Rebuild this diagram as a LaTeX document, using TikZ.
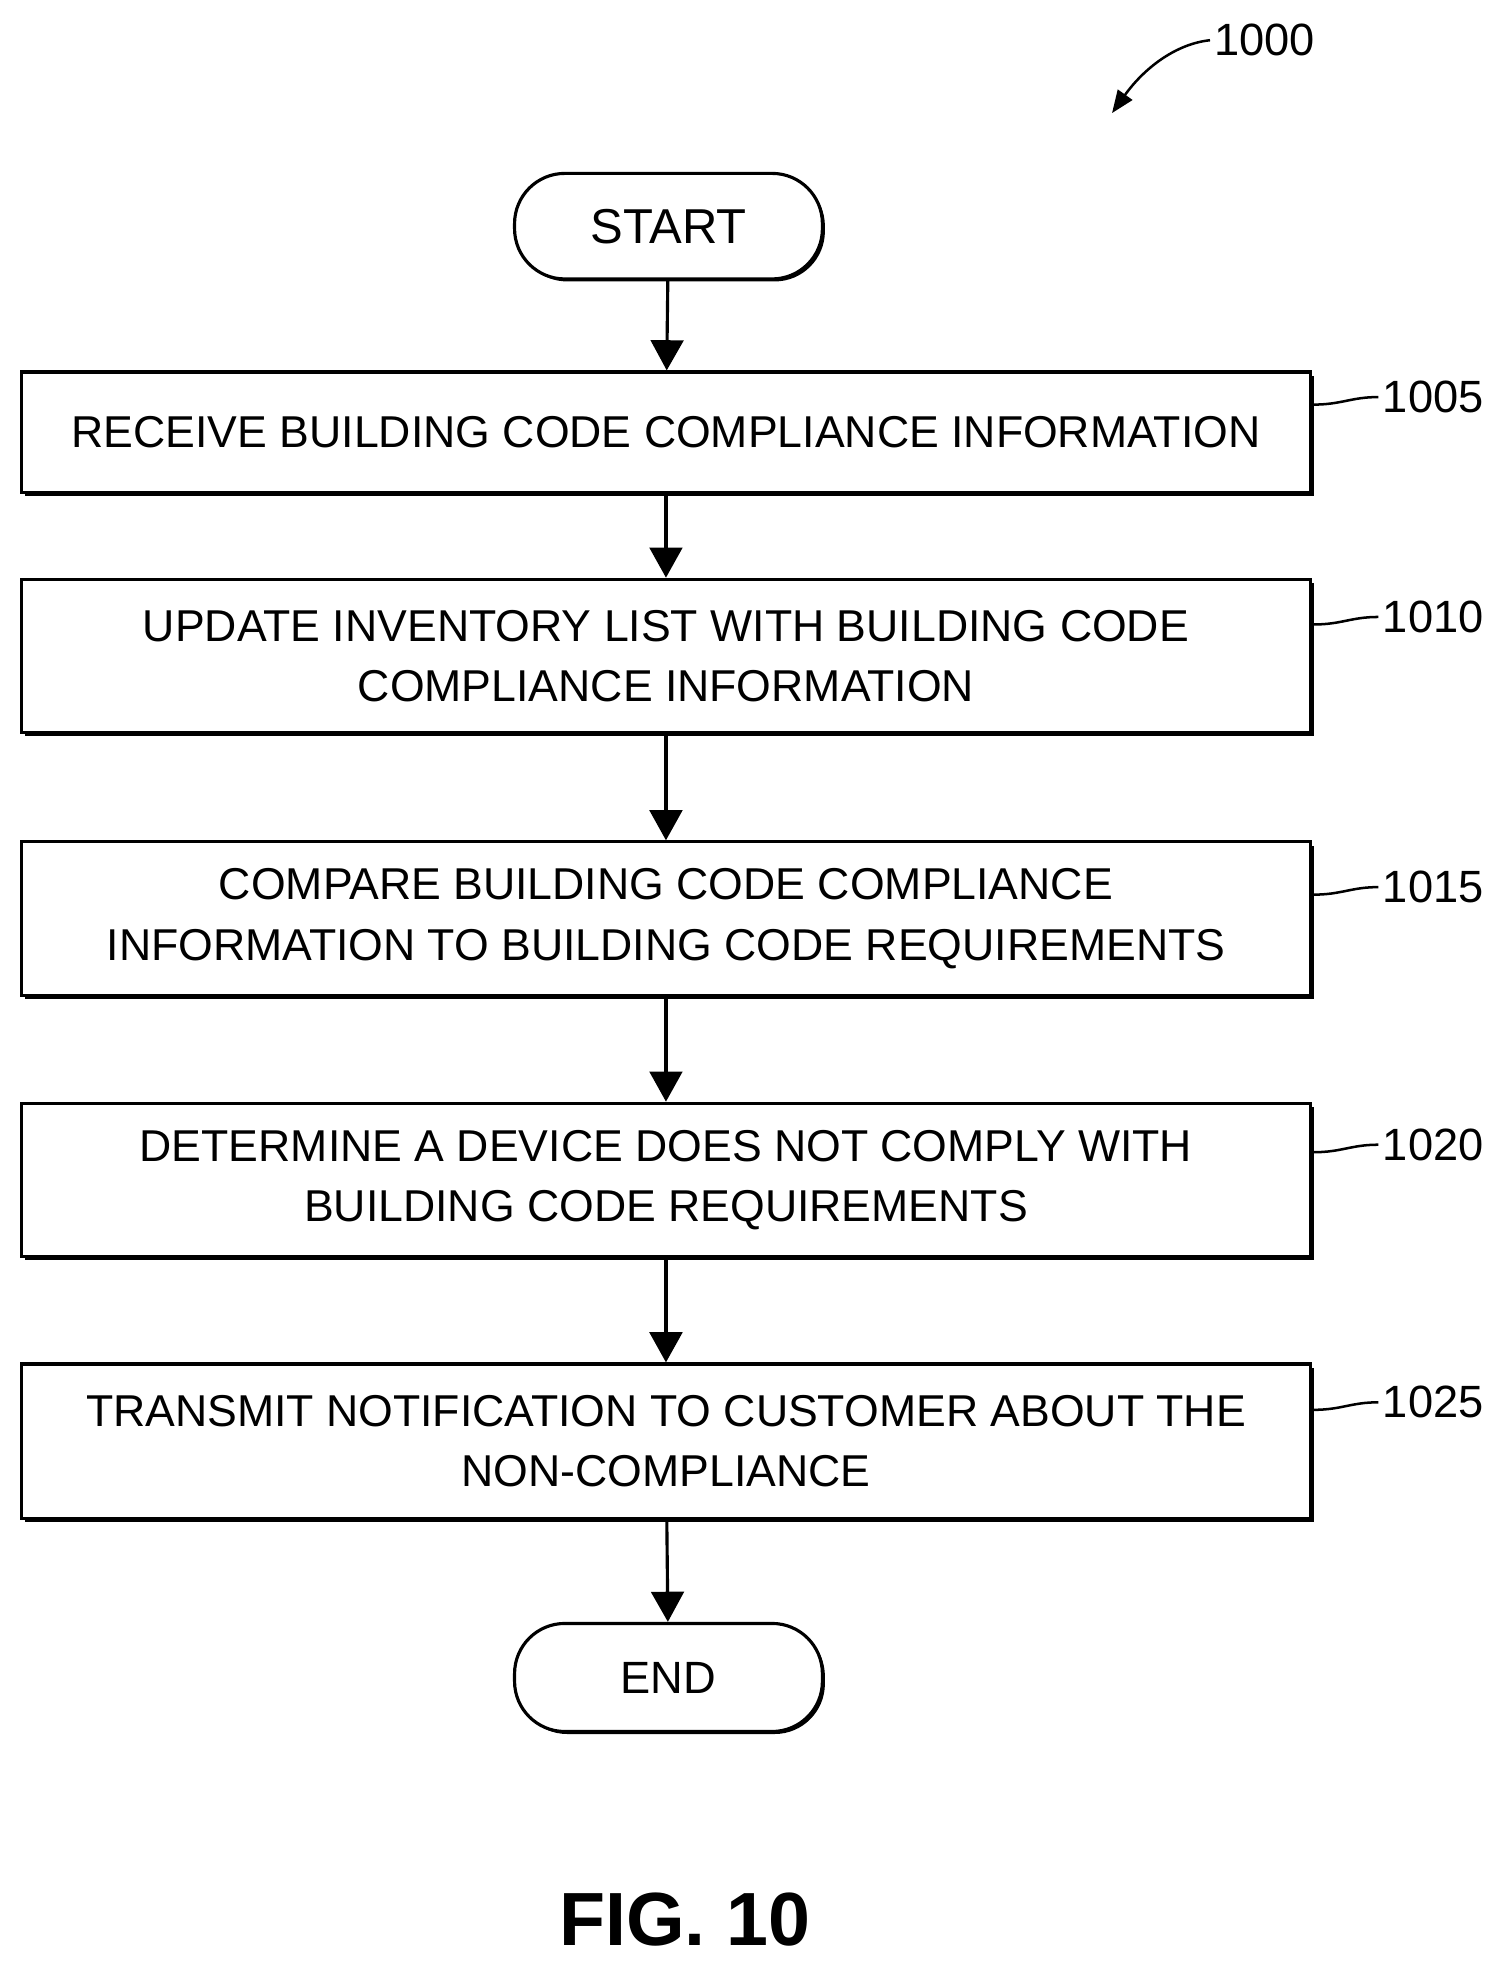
\documentclass[tikz,border=0pt]{standalone}
\usepackage{fontspec}
\setmainfont{Liberation Sans}
\usetikzlibrary{positioning,shadows,arrows.meta}

\tikzset{
    stepbox/.style={draw, line width=2.5pt, fill=white, minimum width=1026pt,
        align=center, font=\fontsize{35.5}{48}\selectfont,
        drop shadow={shadow xshift=3pt, shadow yshift=-3pt, fill=black, opacity=1}},
    term/.style={draw, line width=2.5pt, fill=white, rounded corners=40pt,
        minimum width=245pt, font=\fontsize{36}{40}\selectfont,
        drop shadow={shadow xshift=2pt, shadow yshift=-2pt, fill=black, opacity=1}},
    flow/.style={-{Triangle[length=24pt,width=26pt]}, line width=2.5pt},
    ref/.style={font=\fontsize{36}{40}\selectfont},
    lead/.style={line width=2pt},
}

\begin{document}
\begin{tikzpicture}[x=1pt,y=-1pt]
\useasboundingbox (0,0) rectangle (1200,1571);

% Terminals
\node[term, minimum height=84pt, font=\fontsize{39}{40}\selectfont] (start) at (532,180) {START};
\node[term, minimum height=86pt] (end) at (532,1335) {END};

% Steps
\node[stepbox, minimum height=96pt]  (s1005) at (530,344) {RECEIVE BUILDING CODE COMPLIANCE INFORMATION};
\node[stepbox, minimum height=122pt] (s1010) at (530,522) {UPDATE INVENTORY LIST WITH BUILDING CODE\\COMPLIANCE INFORMATION};
\node[stepbox, minimum height=122pt] (s1015) at (530,731) {COMPARE BUILDING CODE COMPLIANCE\\INFORMATION TO BUILDING CODE REQUIREMENTS};
\node[stepbox, minimum height=122pt] (s1020) at (530,939) {DETERMINE A DEVICE DOES NOT COMPLY WITH\\BUILDING CODE REQUIREMENTS};
\node[stepbox, minimum height=123pt] (s1025) at (530,1147) {TRANSMIT NOTIFICATION TO CUSTOMER ABOUT THE\\NON-COMPLIANCE};

% Connectors
\draw[flow] (start) -- (s1005);
\draw[flow] (s1005) -- (s1010);
\draw[flow] (s1010) -- (s1015);
\draw[flow] (s1015) -- (s1020);
\draw[flow] (s1020) -- (s1025);
\draw[flow] (s1025) -- (end);

% Reference numerals
\foreach \n/\y in {1005/316, 1010/491, 1015/706, 1020/911, 1025/1116}{
    \node[ref, anchor=west] (r\n) at (1097,\y) {\n};
    \coordinate (c\n) at (1045,\y+6);
    \draw[lead] (c\n) .. controls (1068,\y+6) and (1075,\y) .. (r\n.west);
}

\node[ref, anchor=west] (r1000) at (963,32) {1000};
\coordinate (a1000) at (885,90);
\draw[lead, -{Triangle[length=18pt,width=14pt]}] (r1000.west) .. controls (935,35) and (910,55) .. (a1000);

\node[font=\bfseries\fontsize{60}{66}\selectfont] (fig) at (545,1528) {FIG. 10};
\end{tikzpicture}
\end{document}
